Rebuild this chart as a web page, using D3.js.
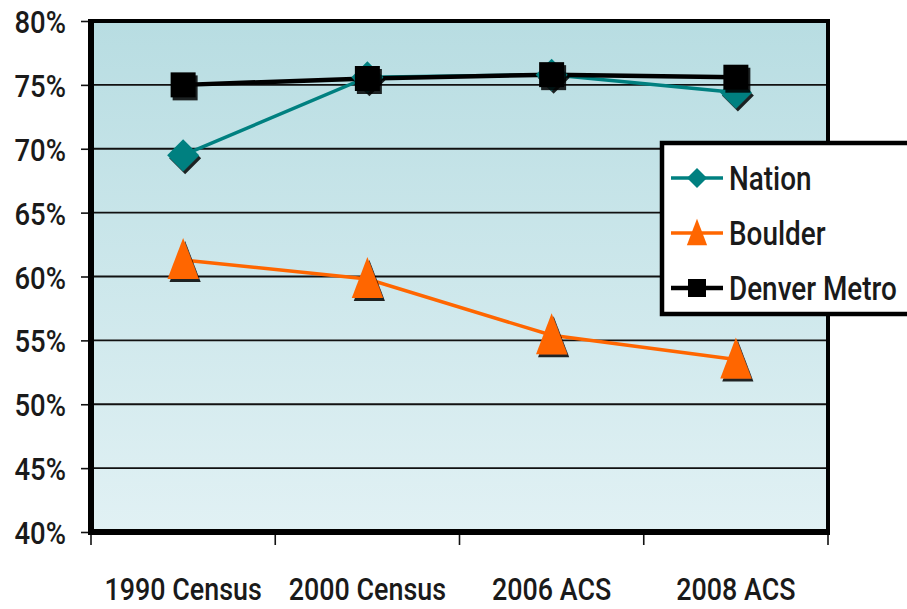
<!DOCTYPE html>
<html>
<head>
<meta charset="utf-8">
<script src="https://cdn.jsdelivr.net/npm/d3@7"></script>
<style>
  html, body { margin: 0; padding: 0; background: #ffffff; }
  svg { display: block; }
  text { font-family: "Roboto", "Open Sans", sans-serif; font-weight: 500; fill: #1a1a1a; }
</style>
</head>
<body>
<svg id="chart" width="907" height="609"></svg>
<script>
// Share of population by survey year
const categories = ["1990 Census", "2000 Census", "2006 ACS", "2008 ACS"];
const nation = [69.5, 75.6, 75.8, 74.4];
const boulder = [61.3, 59.8, 55.4, 53.5];
const denverMetro = [75.0, 75.5, 75.8, 75.6];
const yTicks = [40, 45, 50, 55, 60, 65, 70, 75, 80];

const svg = d3.select("#chart");
const plot = { left: 91, top: 21, right: 828, bottom: 532 };

const x = d3.scaleBand().domain(categories).range([plot.left, plot.right]).paddingInner(0).paddingOuter(0);
const y = d3.scaleLinear().domain([40, 80]).range([plot.bottom, plot.top]);
const cx = d => x(d) + x.bandwidth() / 2;

// narrow the glyphs horizontally, keeping each label anchored where the axis put it
function condense(sel, k) {
  sel.each(function () {
    const t = d3.select(this);
    const x0 = +t.attr("x") || 0;
    t.attr("x", 0).attr("transform", `translate(${x0},0) scale(${k},1)`);
  });
}

const defs = svg.append("defs");
const grad = defs.append("linearGradient").attr("id", "bg").attr("x1", 0).attr("y1", 0).attr("x2", 0).attr("y2", 1);
grad.append("stop").attr("offset", "0%").attr("stop-color", "#b8dde2");
grad.append("stop").attr("offset", "100%").attr("stop-color", "#e1f1f4");

const shadow = defs.append("filter").attr("id", "shadow").attr("x", "-30%").attr("y", "-30%").attr("width", "160%").attr("height", "160%");
shadow.append("feOffset").attr("in", "SourceAlpha").attr("dx", 2).attr("dy", 3).attr("result", "off");
shadow.append("feGaussianBlur").attr("in", "off").attr("stdDeviation", 0.6).attr("result", "blur");
shadow.append("feColorMatrix").attr("in", "blur").attr("type", "matrix")
  .attr("values", "0 0 0 0 0  0 0 0 0 0  0 0 0 0 0  0 0 0 0.85 0").attr("result", "sh");
const merge = shadow.append("feMerge");
merge.append("feMergeNode").attr("in", "sh");
merge.append("feMergeNode").attr("in", "SourceGraphic");

// plot background
svg.append("rect")
  .attr("x", plot.left).attr("y", plot.top)
  .attr("width", plot.right - plot.left).attr("height", plot.bottom - plot.top)
  .attr("fill", "url(#bg)");

// horizontal gridlines
svg.append("g")
  .selectAll("line").data(yTicks).join("line")
  .attr("x1", plot.left).attr("x2", plot.right)
  .attr("y1", d => y(d)).attr("y2", d => y(d))
  .attr("stroke", "#111").attr("stroke-width", 1.8);

// y axis
const yAxis = svg.append("g")
  .attr("transform", `translate(${plot.left},0)`)
  .call(d3.axisLeft(y).tickValues(yTicks).tickSize(10).tickPadding(15).tickFormat(d => d + "%"));
yAxis.select(".domain").remove();
yAxis.selectAll(".tick line").attr("stroke", "#111").attr("stroke-width", 1.6);
yAxis.selectAll(".tick text").attr("font-size", 32).attr("fill", "#1a1a1a").attr("dy", "0.36em")
  .call(condense, 0.86);

// x axis
const xAxis = svg.append("g")
  .attr("transform", `translate(0,${plot.bottom})`)
  .call(d3.axisBottom(x).tickSize(0).tickPadding(45));
xAxis.select(".domain").remove();
xAxis.selectAll(".tick text").attr("font-size", 32).attr("fill", "#1a1a1a")
  .call(condense, 0.84);
svg.append("g")
  .selectAll("line").data([...categories.map(c => x(c)), plot.right]).join("line")
  .attr("x1", d => d).attr("x2", d => d)
  .attr("y1", plot.bottom).attr("y2", plot.bottom + 13)
  .attr("stroke", "#111").attr("stroke-width", 1.6);

// frame
svg.append("line").attr("x1", plot.left).attr("x2", plot.right).attr("y1", plot.top).attr("y2", plot.top)
  .attr("stroke", "#000").attr("stroke-width", 4);
svg.append("line").attr("x1", plot.right).attr("x2", plot.right).attr("y1", plot.top - 2).attr("y2", plot.bottom)
  .attr("stroke", "#000").attr("stroke-width", 4);
svg.append("line").attr("x1", plot.left).attr("x2", plot.left).attr("y1", plot.top - 2).attr("y2", plot.bottom + 3)
  .attr("stroke", "#000").attr("stroke-width", 6);
svg.append("line").attr("x1", plot.left - 3).attr("x2", plot.right + 2).attr("y1", plot.bottom).attr("y2", plot.bottom)
  .attr("stroke", "#000").attr("stroke-width", 6);

// marker shapes
const diamond = s => `M0,${-s}L${s},0L0,${s}L${-s},0Z`;
const square = s => `M${-s},${-s}H${s}V${s}H${-s}Z`;
const triangle = s => `M0,${-s * 1.1}L${s * 0.78},${s * 0.95}L${-s * 0.78},${s * 0.95}Z`;

const seriesList = [
  { name: "Nation", values: nation, color: "#008080", width: 3.5, shape: diamond, size: 16, lsize: 10 },
  { name: "Boulder", values: boulder, color: "#ff6600", width: 3.5, shape: triangle, size: 20, lsize: 13 },
  { name: "Denver Metro", values: denverMetro, color: "#000000", width: 4.5, shape: square, size: 12.5, lsize: 9 }
];

const line = d3.line().x((d, i) => cx(categories[i])).y(d => y(d));

// lines first, then markers on top
seriesList.forEach(s => {
  svg.append("path").datum(s.values)
    .attr("d", line).attr("fill", "none")
    .attr("stroke", s.color).attr("stroke-width", s.width);
});
seriesList.forEach(s => {
  svg.append("g").selectAll("path").data(s.values).join("path")
    .attr("transform", (d, i) => `translate(${cx(categories[i])},${y(d)})`)
    .attr("d", s.shape(s.size))
    .attr("fill", s.color)
    .attr("filter", "url(#shadow)");
});

// legend
const legend = svg.append("g").attr("transform", "translate(662,143)");
legend.append("rect").attr("x", 0).attr("y", 0).attr("width", 260).attr("height", 171)
  .attr("fill", "#fff").attr("stroke", "#000").attr("stroke-width", 4.5);
seriesList.forEach((s, i) => {
  const gy = 35 + i * 55;
  const g = legend.append("g").attr("transform", `translate(0,${gy})`);
  g.append("line").attr("x1", 9).attr("x2", 61).attr("y1", 0).attr("y2", 0)
    .attr("stroke", s.color).attr("stroke-width", s.width);
  g.append("path").attr("transform", "translate(35,0)").attr("d", s.shape(s.lsize)).attr("fill", s.color);
  g.append("text").attr("x", 67).attr("y", 0).attr("dy", "0.36em")
    .attr("font-size", 34).text(s.name)
    .call(condense, 0.82);
});
</script>
</body>
</html>
